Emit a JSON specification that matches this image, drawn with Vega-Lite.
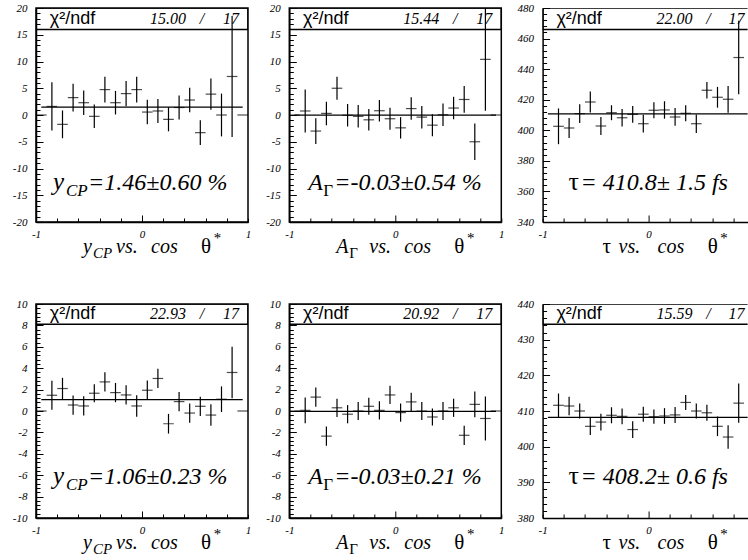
{
"$schema": "https://vega.github.io/schema/vega-lite/v6.json",
"background": "white",
"padding": {"left": 11, "top": 1, "right": 0, "bottom": 0},
"bounds": "flush",
"columns": 3,
"spacing": {"row": 82, "column": 41.3},
"config": {
 "view": {"stroke": "black", "strokeWidth": 1.5},
 "axis": {"ticks": false, "grid": true, "gridColor": "black", "gridWidth": 1, "gridOpacity": 1, "tickCount": 100, "domainColor": "black", "domainWidth": 1.5, "labelFont": "Liberation Serif", "labelFontStyle": "italic", "labelFontSize": 11, "labelColor": "black", "labelFlush": false, "labelOverlap": false, "title": null},
 "axisY": {"labelPadding": 9},
 "axisX": {"labelPadding": 6},
 "mark": {"color": "black"},
 "text": {"font": "Liberation Serif", "fontStyle": "italic", "color": "black"}
},
"datasets": {
 "m1": [{"chi2": "15.00", "ndf": "17", "fit": 1.46, "sym": "y", "sub": "CP", "rest": "=1.46±0.60 %"}],
 "m2": [{"chi2": "15.44", "ndf": "17", "fit": -0.03, "sym": "A", "sub": "Γ", "rest": "=-0.03±0.54 %"}],
 "m3": [{"chi2": "22.00", "ndf": "17", "fit": 410.8, "sym": "τ", "sub": "", "rest": "= 410.8± 1.5 fs"}],
 "m4": [{"chi2": "22.93", "ndf": "17", "fit": 1.06, "sym": "y", "sub": "CP", "rest": "=1.06±0.23 %"}],
 "m5": [{"chi2": "20.92", "ndf": "17", "fit": -0.03, "sym": "A", "sub": "Γ", "rest": "=-0.03±0.21 %"}],
 "m6": [{"chi2": "15.59", "ndf": "17", "fit": 408.2, "sym": "τ", "sub": "", "rest": "= 408.2± 0.6 fs"}],
 "p1": [{"x": -0.95, "y": 0, "e": 0}, {"x": -0.85, "y": 1.6, "e": 4.5}, {"x": -0.75, "y": -1.75, "e": 2.6}, {"x": -0.65, "y": 3.25, "e": 2.6}, {"x": -0.55, "y": 2.3, "e": 2.3}, {"x": -0.45, "y": -0.25, "e": 2.2}, {"x": -0.35, "y": 4.75, "e": 2.4}, {"x": -0.25, "y": 2.3, "e": 2.2}, {"x": -0.15, "y": 4.0, "e": 2.35}, {"x": -0.05, "y": 4.75, "e": 2.4}, {"x": 0.05, "y": 0.55, "e": 2.3}, {"x": 0.15, "y": 0.75, "e": 2.25}, {"x": 0.25, "y": -0.8, "e": 2.25}, {"x": 0.35, "y": 1.4, "e": 2.25}, {"x": 0.45, "y": 2.8, "e": 2.3}, {"x": 0.55, "y": -3.3, "e": 2.3}, {"x": 0.65, "y": 3.9, "e": 2.9}, {"x": 0.75, "y": 0.0, "e": 4.0}, {"x": 0.85, "y": 7.2, "e": 11.3}, {"x": 0.95, "y": 0, "e": 0}],
 "p2": [{"x": -0.95, "y": 0, "e": 0}, {"x": -0.85, "y": 0.75, "e": 4.0}, {"x": -0.75, "y": -3.0, "e": 2.4}, {"x": -0.65, "y": 0.3, "e": 2.2}, {"x": -0.55, "y": 5.0, "e": 2.15}, {"x": -0.45, "y": -0.05, "e": 2.1}, {"x": -0.35, "y": -0.25, "e": 2.1}, {"x": -0.25, "y": -0.9, "e": 2.0}, {"x": -0.15, "y": 0.8, "e": 2.0}, {"x": -0.05, "y": -0.7, "e": 2.05}, {"x": 0.05, "y": -2.4, "e": 2.0}, {"x": 0.15, "y": 1.2, "e": 2.1}, {"x": 0.25, "y": -0.4, "e": 2.1}, {"x": 0.35, "y": -1.9, "e": 2.05}, {"x": 0.45, "y": 0.05, "e": 2.1}, {"x": 0.55, "y": 1.3, "e": 2.1}, {"x": 0.65, "y": 2.9, "e": 2.5}, {"x": 0.75, "y": -5.0, "e": 3.4}, {"x": 0.85, "y": 10.4, "e": 9.6}, {"x": 0.95, "y": 0, "e": 0}],
 "p3": [{"x": -0.85, "y": 402.6, "e": 11.7}, {"x": -0.75, "y": 401.5, "e": 6.6}, {"x": -0.65, "y": 410.9, "e": 6.1}, {"x": -0.55, "y": 418.5, "e": 6.9}, {"x": -0.45, "y": 402.8, "e": 5.9}, {"x": -0.35, "y": 411.5, "e": 4.9}, {"x": -0.25, "y": 408.2, "e": 5.7}, {"x": -0.15, "y": 410.4, "e": 5.5}, {"x": -0.05, "y": 404.3, "e": 5.8}, {"x": 0.05, "y": 413.1, "e": 5.25}, {"x": 0.15, "y": 413.3, "e": 5.7}, {"x": 0.25, "y": 408.7, "e": 5.8}, {"x": 0.35, "y": 411.1, "e": 5.25}, {"x": 0.45, "y": 404.3, "e": 6.0}, {"x": 0.55, "y": 426.2, "e": 5.4}, {"x": 0.65, "y": 421.6, "e": 6.8}, {"x": 0.75, "y": 420.3, "e": 8.75}, {"x": 0.85, "y": 447.6, "e": 24}],
 "p4": [{"x": -0.95, "y": 0, "e": 0}, {"x": -0.85, "y": 1.47, "e": 1.35}, {"x": -0.75, "y": 2.1, "e": 1.0}, {"x": -0.65, "y": 0.56, "e": 0.9}, {"x": -0.55, "y": 0.47, "e": 0.9}, {"x": -0.45, "y": 1.66, "e": 0.85}, {"x": -0.35, "y": 2.72, "e": 0.9}, {"x": -0.25, "y": 1.72, "e": 0.9}, {"x": -0.15, "y": 1.5, "e": 0.9}, {"x": -0.05, "y": 0.47, "e": 1.0}, {"x": 0.05, "y": 1.94, "e": 0.9}, {"x": 0.15, "y": 3.04, "e": 0.9}, {"x": 0.25, "y": -1.19, "e": 0.92}, {"x": 0.35, "y": 0.88, "e": 0.9}, {"x": 0.45, "y": -0.19, "e": 0.9}, {"x": 0.55, "y": 0.44, "e": 0.9}, {"x": 0.65, "y": -0.38, "e": 1.0}, {"x": 0.75, "y": 1.1, "e": 1.2}, {"x": 0.85, "y": 3.6, "e": 2.4}, {"x": 0.95, "y": 0, "e": 0}],
 "p5": [{"x": -0.95, "y": 0, "e": 0}, {"x": -0.85, "y": 0.06, "e": 1.2}, {"x": -0.75, "y": 1.3, "e": 0.9}, {"x": -0.65, "y": -2.35, "e": 0.9}, {"x": -0.55, "y": 0.3, "e": 0.85}, {"x": -0.45, "y": -0.3, "e": 0.85}, {"x": -0.35, "y": 0.0, "e": 0.85}, {"x": -0.25, "y": 0.44, "e": 0.8}, {"x": -0.15, "y": 0.06, "e": 0.85}, {"x": -0.05, "y": 1.5, "e": 0.85}, {"x": 0.05, "y": -0.15, "e": 0.85}, {"x": 0.15, "y": 0.85, "e": 0.85}, {"x": 0.25, "y": 0.0, "e": 0.85}, {"x": 0.35, "y": -0.56, "e": 0.8}, {"x": 0.45, "y": 0.0, "e": 0.85}, {"x": 0.55, "y": 0.3, "e": 0.85}, {"x": 0.65, "y": -2.27, "e": 0.9}, {"x": 0.75, "y": 0.62, "e": 1.2}, {"x": 0.85, "y": -0.7, "e": 2.05}, {"x": 0.95, "y": 0, "e": 0}],
 "p6": [{"x": -0.85, "y": 411.6, "e": 3.3}, {"x": -0.75, "y": 411.4, "e": 2.6}, {"x": -0.65, "y": 410.0, "e": 2.1}, {"x": -0.55, "y": 405.7, "e": 2.4}, {"x": -0.45, "y": 406.9, "e": 2.35}, {"x": -0.35, "y": 408.8, "e": 2.25}, {"x": -0.25, "y": 408.5, "e": 2.2}, {"x": -0.15, "y": 404.8, "e": 2.35}, {"x": -0.05, "y": 409.1, "e": 2.1}, {"x": 0.05, "y": 408.4, "e": 2.0}, {"x": 0.15, "y": 408.6, "e": 2.2}, {"x": 0.25, "y": 408.9, "e": 2.25}, {"x": 0.35, "y": 412.4, "e": 2.1}, {"x": 0.45, "y": 410.0, "e": 2.1}, {"x": 0.55, "y": 409.5, "e": 2.25}, {"x": 0.65, "y": 405.7, "e": 2.75}, {"x": 0.75, "y": 402.7, "e": 3.3}, {"x": 0.85, "y": 412.2, "e": 5.5}]
},
"concat": [
 {"width": 212, "height": 214, "layer": [
  {"data": {"name": "m1"}, "mark": {"type": "rect", "fill": "transparent", "stroke": "black", "strokeWidth": 1.5, "clip": true}, "encoding": {"x": {"datum": -1, "type": "quantitative"}, "x2": {"datum": 1}, "y": {"datum": 16, "type": "quantitative"}, "y2": {"datum": 20}}},
  {"data": {"name": "m1"}, "mark": {"type": "rule", "clip": true, "strokeWidth": 1.2}, "encoding": {"x": {"datum": -0.95, "type": "quantitative"}, "x2": {"datum": 0.95}, "y": {"field": "fit", "type": "quantitative"}}},
  {"data": {"name": "p1"}, "mark": {"type": "errorbar", "color": "black", "rule": {"strokeWidth": 1.2}}, "encoding": {
    "x": {"field": "x", "type": "quantitative", "scale": {"domain": [-1, 1], "nice": false, "zero": false}, "axis": {"values": [-1, -0.8, -0.6, -0.4, -0.2, 0, 0.2, 0.4, 0.6, 0.8, 1], "tickCount": 100, "labelOverlap": false, "labelExpr": "abs(datum.value) == 1 || datum.value == 0 ? '' + datum.value : ''", "gridDash": {"condition": {"test": "datum.value == 0", "value": [0, 207, 7, 3000]}, "value": [0, 210, 4, 3000]}, "title": null}},
    "y": {"field": "y", "type": "quantitative", "scale": {"domain": [-20, 20], "nice": false, "zero": false}, "axis": {"values": [-20,-19,-18,-17,-16,-15,-14,-13,-12,-11,-10,-9,-8,-7,-6,-5,-4,-3,-2,-1,0,1,2,3,4,5,6,7,8,9,10,11,12,13,14,15,16,17,18,19,20], "tickCount": 100, "labelOverlap": false, "labelExpr": "datum.value % 5 == 0 ? '' + datum.value : ''", "gridDash": {"condition": {"test": "datum.value % 5 == 0", "value": [7, 3000]}, "value": [4, 3000]}, "title": null}},
    "yError": {"field": "e"}}},
  {"data": {"name": "p1"}, "mark": {"type": "tick", "orient": "horizontal", "size": 10.6, "thickness": 1.2}, "encoding": {"x": {"field": "x", "type": "quantitative"}, "y": {"field": "y", "type": "quantitative"}}},
  {"data": {"name": "m1"}, "mark": {"type": "text", "font": "Liberation Sans", "fontStyle": "normal", "fontSize": 18, "align": "left", "baseline": "middle"}, "encoding": {"x": {"datum": -0.87, "type": "quantitative"}, "y": {"datum": 18, "type": "quantitative"}, "text": {"value": "χ²/ndf"}}},
  {"data": {"name": "m1"}, "mark": {"type": "text", "font": "Liberation Serif", "fontSize": 16, "align": "right", "baseline": "middle"}, "encoding": {"x": {"datum": 0.415, "type": "quantitative"}, "y": {"datum": 18, "type": "quantitative"}, "text": {"field": "chi2"}}},
  {"data": {"name": "m1"}, "mark": {"type": "text", "font": "Liberation Serif", "fontSize": 16, "align": "center", "baseline": "middle"}, "encoding": {"x": {"datum": 0.566, "type": "quantitative"}, "y": {"datum": 18, "type": "quantitative"}, "text": {"value": "/"}}},
  {"data": {"name": "m1"}, "mark": {"type": "text", "font": "Liberation Serif", "fontSize": 16, "align": "right", "baseline": "middle"}, "encoding": {"x": {"datum": 0.915, "type": "quantitative"}, "y": {"datum": 18, "type": "quantitative"}, "text": {"field": "ndf"}}},
  {"data": {"name": "m1"}, "mark": {"type": "text", "font": "Liberation Serif", "fontSize": 25, "align": "left", "baseline": "alphabetic"}, "encoding": {"x": {"datum": -0.84, "type": "quantitative"}, "y": {"datum": -14, "type": "quantitative"}, "text": {"field": "sym"}}},
  {"data": {"name": "m1"}, "mark": {"type": "text", "font": "Liberation Serif", "fontSize": 17, "align": "left", "baseline": "alphabetic", "dy": 6}, "encoding": {"x": {"datum": -0.717, "type": "quantitative"}, "y": {"datum": -14, "type": "quantitative"}, "text": {"field": "sub"}}},
  {"data": {"name": "m1"}, "mark": {"type": "text", "font": "Liberation Serif", "fontSize": 24, "align": "left", "baseline": "alphabetic"}, "encoding": {"x": {"datum": -0.509, "type": "quantitative"}, "y": {"datum": -14, "type": "quantitative"}, "text": {"field": "rest"}}},
  {"data": {"name": "m1"}, "mark": {"type": "text", "font": "Liberation Serif", "fontSize": 20, "align": "left", "baseline": "alphabetic"}, "encoding": {"x": {"datum": -0.557, "type": "quantitative"}, "y": {"datum": -25.8, "type": "quantitative"}, "text": {"field": "sym"}}},
  {"data": {"name": "m1"}, "mark": {"type": "text", "font": "Liberation Serif", "fontSize": 15, "align": "left", "baseline": "alphabetic", "dy": 5}, "encoding": {"x": {"datum": -0.462, "type": "quantitative"}, "y": {"datum": -25.8, "type": "quantitative"}, "text": {"field": "sub"}}},
  {"data": {"name": "m1"}, "mark": {"type": "text", "font": "Liberation Serif", "fontSize": 20, "align": "left", "baseline": "alphabetic"}, "encoding": {"x": {"datum": -0.245, "type": "quantitative"}, "y": {"datum": -25.8, "type": "quantitative"}, "text": {"value": "vs."}}},
  {"data": {"name": "m1"}, "mark": {"type": "text", "font": "Liberation Serif", "fontSize": 20, "align": "left", "baseline": "alphabetic"}, "encoding": {"x": {"datum": 0.085, "type": "quantitative"}, "y": {"datum": -25.8, "type": "quantitative"}, "text": {"value": "cos"}}},
  {"data": {"name": "m1"}, "mark": {"type": "text", "font": "Liberation Serif", "fontSize": 21, "fontStyle": "normal", "align": "left", "baseline": "alphabetic"}, "encoding": {"x": {"datum": 0.557, "type": "quantitative"}, "y": {"datum": -25.8, "type": "quantitative"}, "text": {"value": "θ"}}},
  {"data": {"name": "m1"}, "mark": {"type": "text", "font": "Liberation Serif", "fontSize": 15, "align": "left", "baseline": "alphabetic", "dy": -10}, "encoding": {"x": {"datum": 0.67, "type": "quantitative"}, "y": {"datum": -25.8, "type": "quantitative"}, "text": {"value": "*"}}}
 ]},
 {"width": 212, "height": 214, "layer": [
  {"data": {"name": "m2"}, "mark": {"type": "rect", "fill": "transparent", "stroke": "black", "strokeWidth": 1.5, "clip": true}, "encoding": {"x": {"datum": -1, "type": "quantitative"}, "x2": {"datum": 1}, "y": {"datum": 16, "type": "quantitative"}, "y2": {"datum": 20}}},
  {"data": {"name": "m2"}, "mark": {"type": "rule", "clip": true, "strokeWidth": 1.2}, "encoding": {"x": {"datum": -0.95, "type": "quantitative"}, "x2": {"datum": 0.95}, "y": {"field": "fit", "type": "quantitative"}}},
  {"data": {"name": "p2"}, "mark": {"type": "errorbar", "color": "black", "rule": {"strokeWidth": 1.2}}, "encoding": {
    "x": {"field": "x", "type": "quantitative", "scale": {"domain": [-1, 1], "nice": false, "zero": false}, "axis": {"values": [-1, -0.8, -0.6, -0.4, -0.2, 0, 0.2, 0.4, 0.6, 0.8, 1], "tickCount": 100, "labelOverlap": false, "labelExpr": "abs(datum.value) == 1 || datum.value == 0 ? '' + datum.value : ''", "gridDash": {"condition": {"test": "datum.value == 0", "value": [0, 207, 7, 3000]}, "value": [0, 210, 4, 3000]}, "title": null}},
    "y": {"field": "y", "type": "quantitative", "scale": {"domain": [-20, 20], "nice": false, "zero": false}, "axis": {"values": [-20,-19,-18,-17,-16,-15,-14,-13,-12,-11,-10,-9,-8,-7,-6,-5,-4,-3,-2,-1,0,1,2,3,4,5,6,7,8,9,10,11,12,13,14,15,16,17,18,19,20], "tickCount": 100, "labelOverlap": false, "labelExpr": "datum.value % 5 == 0 ? '' + datum.value : ''", "gridDash": {"condition": {"test": "datum.value % 5 == 0", "value": [7, 3000]}, "value": [4, 3000]}, "title": null}},
    "yError": {"field": "e"}}},
  {"data": {"name": "p2"}, "mark": {"type": "tick", "orient": "horizontal", "size": 10.6, "thickness": 1.2}, "encoding": {"x": {"field": "x", "type": "quantitative"}, "y": {"field": "y", "type": "quantitative"}}},
  {"data": {"name": "m2"}, "mark": {"type": "text", "font": "Liberation Sans", "fontStyle": "normal", "fontSize": 18, "align": "left", "baseline": "middle"}, "encoding": {"x": {"datum": -0.87, "type": "quantitative"}, "y": {"datum": 18, "type": "quantitative"}, "text": {"value": "χ²/ndf"}}},
  {"data": {"name": "m2"}, "mark": {"type": "text", "font": "Liberation Serif", "fontSize": 16, "align": "right", "baseline": "middle"}, "encoding": {"x": {"datum": 0.415, "type": "quantitative"}, "y": {"datum": 18, "type": "quantitative"}, "text": {"field": "chi2"}}},
  {"data": {"name": "m2"}, "mark": {"type": "text", "font": "Liberation Serif", "fontSize": 16, "align": "center", "baseline": "middle"}, "encoding": {"x": {"datum": 0.566, "type": "quantitative"}, "y": {"datum": 18, "type": "quantitative"}, "text": {"value": "/"}}},
  {"data": {"name": "m2"}, "mark": {"type": "text", "font": "Liberation Serif", "fontSize": 16, "align": "right", "baseline": "middle"}, "encoding": {"x": {"datum": 0.915, "type": "quantitative"}, "y": {"datum": 18, "type": "quantitative"}, "text": {"field": "ndf"}}},
  {"data": {"name": "m2"}, "mark": {"type": "text", "font": "Liberation Serif", "fontSize": 24, "align": "left", "baseline": "alphabetic"}, "encoding": {"x": {"datum": -0.821, "type": "quantitative"}, "y": {"datum": -14, "type": "quantitative"}, "text": {"field": "sym"}}},
  {"data": {"name": "m2"}, "mark": {"type": "text", "font": "Liberation Serif", "fontSize": 17, "fontStyle": "normal", "align": "left", "baseline": "alphabetic", "dy": 6}, "encoding": {"x": {"datum": -0.679, "type": "quantitative"}, "y": {"datum": -14, "type": "quantitative"}, "text": {"field": "sub"}}},
  {"data": {"name": "m2"}, "mark": {"type": "text", "font": "Liberation Serif", "fontSize": 24, "align": "left", "baseline": "alphabetic"}, "encoding": {"x": {"datum": -0.575, "type": "quantitative"}, "y": {"datum": -14, "type": "quantitative"}, "text": {"field": "rest"}}},
  {"data": {"name": "m2"}, "mark": {"type": "text", "font": "Liberation Serif", "fontSize": 20, "align": "left", "baseline": "alphabetic"}, "encoding": {"x": {"datum": -0.557, "type": "quantitative"}, "y": {"datum": -25.8, "type": "quantitative"}, "text": {"field": "sym"}}},
  {"data": {"name": "m2"}, "mark": {"type": "text", "font": "Liberation Serif", "fontSize": 15, "fontStyle": "normal", "align": "left", "baseline": "alphabetic", "dy": 5}, "encoding": {"x": {"datum": -0.434, "type": "quantitative"}, "y": {"datum": -25.8, "type": "quantitative"}, "text": {"field": "sub"}}},
  {"data": {"name": "m2"}, "mark": {"type": "text", "font": "Liberation Serif", "fontSize": 20, "align": "left", "baseline": "alphabetic"}, "encoding": {"x": {"datum": -0.245, "type": "quantitative"}, "y": {"datum": -25.8, "type": "quantitative"}, "text": {"value": "vs."}}},
  {"data": {"name": "m2"}, "mark": {"type": "text", "font": "Liberation Serif", "fontSize": 20, "align": "left", "baseline": "alphabetic"}, "encoding": {"x": {"datum": 0.085, "type": "quantitative"}, "y": {"datum": -25.8, "type": "quantitative"}, "text": {"value": "cos"}}},
  {"data": {"name": "m2"}, "mark": {"type": "text", "font": "Liberation Serif", "fontSize": 21, "fontStyle": "normal", "align": "left", "baseline": "alphabetic"}, "encoding": {"x": {"datum": 0.557, "type": "quantitative"}, "y": {"datum": -25.8, "type": "quantitative"}, "text": {"value": "θ"}}},
  {"data": {"name": "m2"}, "mark": {"type": "text", "font": "Liberation Serif", "fontSize": 15, "align": "left", "baseline": "alphabetic", "dy": -10}, "encoding": {"x": {"datum": 0.67, "type": "quantitative"}, "y": {"datum": -25.8, "type": "quantitative"}, "text": {"value": "*"}}}
 ]},
 {"width": 205, "height": 214, "view": {"stroke": null}, "layer": [
  {"data": {"name": "m3"}, "mark": {"type": "rect", "fill": "transparent", "stroke": "black", "strokeWidth": 1.5, "clip": true}, "encoding": {"x": {"datum": -1, "type": "quantitative"}, "x2": {"datum": 1.2}, "y": {"datum": 466, "type": "quantitative"}, "y2": {"datum": 480}}},
  {"data": {"name": "m3"}, "mark": {"type": "rule", "clip": true, "strokeWidth": 1.2}, "encoding": {"x": {"datum": -0.95, "type": "quantitative"}, "x2": {"datum": 0.95}, "y": {"field": "fit", "type": "quantitative"}}},
  {"data": {"name": "p3"}, "mark": {"type": "errorbar", "color": "black", "rule": {"strokeWidth": 1.2}}, "encoding": {
    "x": {"field": "x", "type": "quantitative", "scale": {"domain": [-1, 0.934], "nice": false, "zero": false}, "axis": {"values": [-1, -0.8, -0.6, -0.4, -0.2, 0, 0.2, 0.4, 0.6, 0.8], "tickCount": 100, "labelOverlap": false, "labelExpr": "abs(datum.value) == 1 || datum.value == 0 ? '' + datum.value : ''", "gridDash": {"condition": {"test": "datum.value == 0", "value": [0, 207, 7, 3000]}, "value": [0, 210, 4, 3000]}, "title": null}},
    "y": {"field": "y", "type": "quantitative", "scale": {"domain": [340, 480], "nice": false, "zero": false}, "axis": {"values": [340,344,348,352,356,360,364,368,372,376,380,384,388,392,396,400,404,408,412,416,420,424,428,432,436,440,444,448,452,456,460,464,468,472,476,480], "tickCount": 100, "labelOverlap": false, "labelExpr": "datum.value % 20 == 0 ? '' + datum.value : ''", "gridDash": {"condition": {"test": "datum.value % 20 == 0", "value": [7, 3000]}, "value": [4, 3000]}, "title": null}},
    "yError": {"field": "e"}}},
  {"data": {"name": "p3"}, "mark": {"type": "tick", "orient": "horizontal", "size": 10.6, "thickness": 1.2}, "encoding": {"x": {"field": "x", "type": "quantitative"}, "y": {"field": "y", "type": "quantitative"}}},
  {"data": {"name": "m3"}, "mark": {"type": "text", "font": "Liberation Sans", "fontStyle": "normal", "fontSize": 18, "align": "left", "baseline": "middle"}, "encoding": {"x": {"datum": -0.87, "type": "quantitative"}, "y": {"datum": 473, "type": "quantitative"}, "text": {"value": "χ²/ndf"}}},
  {"data": {"name": "m3"}, "mark": {"type": "text", "font": "Liberation Serif", "fontSize": 16, "align": "right", "baseline": "middle"}, "encoding": {"x": {"datum": 0.415, "type": "quantitative"}, "y": {"datum": 473, "type": "quantitative"}, "text": {"field": "chi2"}}},
  {"data": {"name": "m3"}, "mark": {"type": "text", "font": "Liberation Serif", "fontSize": 16, "align": "center", "baseline": "middle"}, "encoding": {"x": {"datum": 0.566, "type": "quantitative"}, "y": {"datum": 473, "type": "quantitative"}, "text": {"value": "/"}}},
  {"data": {"name": "m3"}, "mark": {"type": "text", "font": "Liberation Serif", "fontSize": 16, "align": "right", "baseline": "middle"}, "encoding": {"x": {"datum": 0.905, "type": "quantitative"}, "y": {"datum": 473, "type": "quantitative"}, "text": {"field": "ndf"}}},
  {"data": {"name": "m3"}, "mark": {"type": "text", "font": "Liberation Serif", "fontSize": 26, "fontStyle": "normal", "align": "left", "baseline": "alphabetic"}, "encoding": {"x": {"datum": -0.755, "type": "quantitative"}, "y": {"datum": 361, "type": "quantitative"}, "text": {"field": "sym"}}},
  {"data": {"name": "m3"}, "mark": {"type": "text", "font": "Liberation Serif", "fontSize": 24, "align": "left", "baseline": "alphabetic"}, "encoding": {"x": {"datum": -0.642, "type": "quantitative"}, "y": {"datum": 361, "type": "quantitative"}, "text": {"field": "rest"}}},
  {"data": {"name": "m3"}, "mark": {"type": "text", "font": "Liberation Serif", "fontSize": 21, "fontStyle": "normal", "align": "left", "baseline": "alphabetic"}, "encoding": {"x": {"datum": -0.434, "type": "quantitative"}, "y": {"datum": 319.7, "type": "quantitative"}, "text": {"field": "sym"}}},
  {"data": {"name": "m3"}, "mark": {"type": "text", "font": "Liberation Serif", "fontSize": 20, "align": "left", "baseline": "alphabetic"}, "encoding": {"x": {"datum": -0.283, "type": "quantitative"}, "y": {"datum": 319.7, "type": "quantitative"}, "text": {"value": "vs."}}},
  {"data": {"name": "m3"}, "mark": {"type": "text", "font": "Liberation Serif", "fontSize": 20, "align": "left", "baseline": "alphabetic"}, "encoding": {"x": {"datum": 0.085, "type": "quantitative"}, "y": {"datum": 319.7, "type": "quantitative"}, "text": {"value": "cos"}}},
  {"data": {"name": "m3"}, "mark": {"type": "text", "font": "Liberation Serif", "fontSize": 21, "fontStyle": "normal", "align": "left", "baseline": "alphabetic"}, "encoding": {"x": {"datum": 0.557, "type": "quantitative"}, "y": {"datum": 319.7, "type": "quantitative"}, "text": {"value": "θ"}}},
  {"data": {"name": "m3"}, "mark": {"type": "text", "font": "Liberation Serif", "fontSize": 15, "align": "left", "baseline": "alphabetic", "dy": -10}, "encoding": {"x": {"datum": 0.67, "type": "quantitative"}, "y": {"datum": 319.7, "type": "quantitative"}, "text": {"value": "*"}}}
 ]},
 {"width": 212, "height": 214, "layer": [
  {"data": {"name": "m4"}, "mark": {"type": "rect", "fill": "transparent", "stroke": "black", "strokeWidth": 1.5, "clip": true}, "encoding": {"x": {"datum": -1, "type": "quantitative"}, "x2": {"datum": 1}, "y": {"datum": 8.1, "type": "quantitative"}, "y2": {"datum": 10}}},
  {"data": {"name": "m4"}, "mark": {"type": "rule", "clip": true, "strokeWidth": 1.2}, "encoding": {"x": {"datum": -0.95, "type": "quantitative"}, "x2": {"datum": 0.95}, "y": {"field": "fit", "type": "quantitative"}}},
  {"data": {"name": "p4"}, "mark": {"type": "errorbar", "color": "black", "rule": {"strokeWidth": 1.2}}, "encoding": {
    "x": {"field": "x", "type": "quantitative", "scale": {"domain": [-1, 1], "nice": false, "zero": false}, "axis": {"values": [-1, -0.8, -0.6, -0.4, -0.2, 0, 0.2, 0.4, 0.6, 0.8, 1], "tickCount": 100, "labelOverlap": false, "labelExpr": "abs(datum.value) == 1 || datum.value == 0 ? '' + datum.value : ''", "gridDash": {"condition": {"test": "datum.value == 0", "value": [0, 207, 7, 3000]}, "value": [0, 210, 4, 3000]}, "title": null}},
    "y": {"field": "y", "type": "quantitative", "scale": {"domain": [-10, 10], "nice": false, "zero": false}, "axis": {"values": [-10,-9.6,-9.2,-8.8,-8.4,-8,-7.6,-7.2,-6.8,-6.4,-6,-5.6,-5.2,-4.8,-4.4,-4,-3.6,-3.2,-2.8,-2.4,-2,-1.6,-1.2,-0.8,-0.4,0,0.4,0.8,1.2,1.6,2,2.4,2.8,3.2,3.6,4,4.4,4.8,5.2,5.6,6,6.4,6.8,7.2,7.6,8,8.4,8.8,9.2,9.6,10], "tickCount": 100, "labelOverlap": false, "labelExpr": "datum.value % 2 == 0 ? '' + datum.value : ''", "gridDash": {"condition": {"test": "datum.value % 2 == 0", "value": [7, 3000]}, "value": [4, 3000]}, "title": null}},
    "yError": {"field": "e"}}},
  {"data": {"name": "p4"}, "mark": {"type": "tick", "orient": "horizontal", "size": 10.6, "thickness": 1.2}, "encoding": {"x": {"field": "x", "type": "quantitative"}, "y": {"field": "y", "type": "quantitative"}}},
  {"data": {"name": "m4"}, "mark": {"type": "text", "font": "Liberation Sans", "fontStyle": "normal", "fontSize": 18, "align": "left", "baseline": "middle"}, "encoding": {"x": {"datum": -0.87, "type": "quantitative"}, "y": {"datum": 9.05, "type": "quantitative"}, "text": {"value": "χ²/ndf"}}},
  {"data": {"name": "m4"}, "mark": {"type": "text", "font": "Liberation Serif", "fontSize": 16, "align": "right", "baseline": "middle"}, "encoding": {"x": {"datum": 0.415, "type": "quantitative"}, "y": {"datum": 9.05, "type": "quantitative"}, "text": {"field": "chi2"}}},
  {"data": {"name": "m4"}, "mark": {"type": "text", "font": "Liberation Serif", "fontSize": 16, "align": "center", "baseline": "middle"}, "encoding": {"x": {"datum": 0.566, "type": "quantitative"}, "y": {"datum": 9.05, "type": "quantitative"}, "text": {"value": "/"}}},
  {"data": {"name": "m4"}, "mark": {"type": "text", "font": "Liberation Serif", "fontSize": 16, "align": "right", "baseline": "middle"}, "encoding": {"x": {"datum": 0.915, "type": "quantitative"}, "y": {"datum": 9.05, "type": "quantitative"}, "text": {"field": "ndf"}}},
  {"data": {"name": "m4"}, "mark": {"type": "text", "font": "Liberation Serif", "fontSize": 25, "align": "left", "baseline": "alphabetic"}, "encoding": {"x": {"datum": -0.84, "type": "quantitative"}, "y": {"datum": -6.8, "type": "quantitative"}, "text": {"field": "sym"}}},
  {"data": {"name": "m4"}, "mark": {"type": "text", "font": "Liberation Serif", "fontSize": 17, "align": "left", "baseline": "alphabetic", "dy": 6}, "encoding": {"x": {"datum": -0.717, "type": "quantitative"}, "y": {"datum": -6.8, "type": "quantitative"}, "text": {"field": "sub"}}},
  {"data": {"name": "m4"}, "mark": {"type": "text", "font": "Liberation Serif", "fontSize": 24, "align": "left", "baseline": "alphabetic"}, "encoding": {"x": {"datum": -0.509, "type": "quantitative"}, "y": {"datum": -6.8, "type": "quantitative"}, "text": {"field": "rest"}}},
  {"data": {"name": "m4"}, "mark": {"type": "text", "font": "Liberation Serif", "fontSize": 20, "align": "left", "baseline": "alphabetic"}, "encoding": {"x": {"datum": -0.557, "type": "quantitative"}, "y": {"datum": -12.9, "type": "quantitative"}, "text": {"field": "sym"}}},
  {"data": {"name": "m4"}, "mark": {"type": "text", "font": "Liberation Serif", "fontSize": 15, "align": "left", "baseline": "alphabetic", "dy": 5}, "encoding": {"x": {"datum": -0.462, "type": "quantitative"}, "y": {"datum": -12.9, "type": "quantitative"}, "text": {"field": "sub"}}},
  {"data": {"name": "m4"}, "mark": {"type": "text", "font": "Liberation Serif", "fontSize": 20, "align": "left", "baseline": "alphabetic"}, "encoding": {"x": {"datum": -0.245, "type": "quantitative"}, "y": {"datum": -12.9, "type": "quantitative"}, "text": {"value": "vs."}}},
  {"data": {"name": "m4"}, "mark": {"type": "text", "font": "Liberation Serif", "fontSize": 20, "align": "left", "baseline": "alphabetic"}, "encoding": {"x": {"datum": 0.085, "type": "quantitative"}, "y": {"datum": -12.9, "type": "quantitative"}, "text": {"value": "cos"}}},
  {"data": {"name": "m4"}, "mark": {"type": "text", "font": "Liberation Serif", "fontSize": 21, "fontStyle": "normal", "align": "left", "baseline": "alphabetic"}, "encoding": {"x": {"datum": 0.557, "type": "quantitative"}, "y": {"datum": -12.9, "type": "quantitative"}, "text": {"value": "θ"}}},
  {"data": {"name": "m4"}, "mark": {"type": "text", "font": "Liberation Serif", "fontSize": 15, "align": "left", "baseline": "alphabetic", "dy": -10}, "encoding": {"x": {"datum": 0.67, "type": "quantitative"}, "y": {"datum": -12.9, "type": "quantitative"}, "text": {"value": "*"}}}
 ]},
 {"width": 212, "height": 214, "layer": [
  {"data": {"name": "m5"}, "mark": {"type": "rect", "fill": "transparent", "stroke": "black", "strokeWidth": 1.5, "clip": true}, "encoding": {"x": {"datum": -1, "type": "quantitative"}, "x2": {"datum": 1}, "y": {"datum": 8.1, "type": "quantitative"}, "y2": {"datum": 10}}},
  {"data": {"name": "m5"}, "mark": {"type": "rule", "clip": true, "strokeWidth": 1.2}, "encoding": {"x": {"datum": -0.95, "type": "quantitative"}, "x2": {"datum": 0.95}, "y": {"field": "fit", "type": "quantitative"}}},
  {"data": {"name": "p5"}, "mark": {"type": "errorbar", "color": "black", "rule": {"strokeWidth": 1.2}}, "encoding": {
    "x": {"field": "x", "type": "quantitative", "scale": {"domain": [-1, 1], "nice": false, "zero": false}, "axis": {"values": [-1, -0.8, -0.6, -0.4, -0.2, 0, 0.2, 0.4, 0.6, 0.8, 1], "tickCount": 100, "labelOverlap": false, "labelExpr": "abs(datum.value) == 1 || datum.value == 0 ? '' + datum.value : ''", "gridDash": {"condition": {"test": "datum.value == 0", "value": [0, 207, 7, 3000]}, "value": [0, 210, 4, 3000]}, "title": null}},
    "y": {"field": "y", "type": "quantitative", "scale": {"domain": [-10, 10], "nice": false, "zero": false}, "axis": {"values": [-10,-9.6,-9.2,-8.8,-8.4,-8,-7.6,-7.2,-6.8,-6.4,-6,-5.6,-5.2,-4.8,-4.4,-4,-3.6,-3.2,-2.8,-2.4,-2,-1.6,-1.2,-0.8,-0.4,0,0.4,0.8,1.2,1.6,2,2.4,2.8,3.2,3.6,4,4.4,4.8,5.2,5.6,6,6.4,6.8,7.2,7.6,8,8.4,8.8,9.2,9.6,10], "tickCount": 100, "labelOverlap": false, "labelExpr": "datum.value % 2 == 0 ? '' + datum.value : ''", "gridDash": {"condition": {"test": "datum.value % 2 == 0", "value": [7, 3000]}, "value": [4, 3000]}, "title": null}},
    "yError": {"field": "e"}}},
  {"data": {"name": "p5"}, "mark": {"type": "tick", "orient": "horizontal", "size": 10.6, "thickness": 1.2}, "encoding": {"x": {"field": "x", "type": "quantitative"}, "y": {"field": "y", "type": "quantitative"}}},
  {"data": {"name": "m5"}, "mark": {"type": "text", "font": "Liberation Sans", "fontStyle": "normal", "fontSize": 18, "align": "left", "baseline": "middle"}, "encoding": {"x": {"datum": -0.87, "type": "quantitative"}, "y": {"datum": 9.05, "type": "quantitative"}, "text": {"value": "χ²/ndf"}}},
  {"data": {"name": "m5"}, "mark": {"type": "text", "font": "Liberation Serif", "fontSize": 16, "align": "right", "baseline": "middle"}, "encoding": {"x": {"datum": 0.415, "type": "quantitative"}, "y": {"datum": 9.05, "type": "quantitative"}, "text": {"field": "chi2"}}},
  {"data": {"name": "m5"}, "mark": {"type": "text", "font": "Liberation Serif", "fontSize": 16, "align": "center", "baseline": "middle"}, "encoding": {"x": {"datum": 0.566, "type": "quantitative"}, "y": {"datum": 9.05, "type": "quantitative"}, "text": {"value": "/"}}},
  {"data": {"name": "m5"}, "mark": {"type": "text", "font": "Liberation Serif", "fontSize": 16, "align": "right", "baseline": "middle"}, "encoding": {"x": {"datum": 0.915, "type": "quantitative"}, "y": {"datum": 9.05, "type": "quantitative"}, "text": {"field": "ndf"}}},
  {"data": {"name": "m5"}, "mark": {"type": "text", "font": "Liberation Serif", "fontSize": 24, "align": "left", "baseline": "alphabetic"}, "encoding": {"x": {"datum": -0.821, "type": "quantitative"}, "y": {"datum": -6.8, "type": "quantitative"}, "text": {"field": "sym"}}},
  {"data": {"name": "m5"}, "mark": {"type": "text", "font": "Liberation Serif", "fontSize": 17, "fontStyle": "normal", "align": "left", "baseline": "alphabetic", "dy": 6}, "encoding": {"x": {"datum": -0.679, "type": "quantitative"}, "y": {"datum": -6.8, "type": "quantitative"}, "text": {"field": "sub"}}},
  {"data": {"name": "m5"}, "mark": {"type": "text", "font": "Liberation Serif", "fontSize": 24, "align": "left", "baseline": "alphabetic"}, "encoding": {"x": {"datum": -0.575, "type": "quantitative"}, "y": {"datum": -6.8, "type": "quantitative"}, "text": {"field": "rest"}}},
  {"data": {"name": "m5"}, "mark": {"type": "text", "font": "Liberation Serif", "fontSize": 20, "align": "left", "baseline": "alphabetic"}, "encoding": {"x": {"datum": -0.557, "type": "quantitative"}, "y": {"datum": -12.9, "type": "quantitative"}, "text": {"field": "sym"}}},
  {"data": {"name": "m5"}, "mark": {"type": "text", "font": "Liberation Serif", "fontSize": 15, "fontStyle": "normal", "align": "left", "baseline": "alphabetic", "dy": 5}, "encoding": {"x": {"datum": -0.434, "type": "quantitative"}, "y": {"datum": -12.9, "type": "quantitative"}, "text": {"field": "sub"}}},
  {"data": {"name": "m5"}, "mark": {"type": "text", "font": "Liberation Serif", "fontSize": 20, "align": "left", "baseline": "alphabetic"}, "encoding": {"x": {"datum": -0.245, "type": "quantitative"}, "y": {"datum": -12.9, "type": "quantitative"}, "text": {"value": "vs."}}},
  {"data": {"name": "m5"}, "mark": {"type": "text", "font": "Liberation Serif", "fontSize": 20, "align": "left", "baseline": "alphabetic"}, "encoding": {"x": {"datum": 0.085, "type": "quantitative"}, "y": {"datum": -12.9, "type": "quantitative"}, "text": {"value": "cos"}}},
  {"data": {"name": "m5"}, "mark": {"type": "text", "font": "Liberation Serif", "fontSize": 21, "fontStyle": "normal", "align": "left", "baseline": "alphabetic"}, "encoding": {"x": {"datum": 0.557, "type": "quantitative"}, "y": {"datum": -12.9, "type": "quantitative"}, "text": {"value": "θ"}}},
  {"data": {"name": "m5"}, "mark": {"type": "text", "font": "Liberation Serif", "fontSize": 15, "align": "left", "baseline": "alphabetic", "dy": -10}, "encoding": {"x": {"datum": 0.67, "type": "quantitative"}, "y": {"datum": -12.9, "type": "quantitative"}, "text": {"value": "*"}}}
 ]},
 {"width": 205, "height": 214, "view": {"stroke": null}, "layer": [
  {"data": {"name": "m6"}, "mark": {"type": "rect", "fill": "transparent", "stroke": "black", "strokeWidth": 1.5, "clip": true}, "encoding": {"x": {"datum": -1, "type": "quantitative"}, "x2": {"datum": 1.2}, "y": {"datum": 434.3, "type": "quantitative"}, "y2": {"datum": 440}}},
  {"data": {"name": "m6"}, "mark": {"type": "rule", "clip": true, "strokeWidth": 1.2}, "encoding": {"x": {"datum": -0.95, "type": "quantitative"}, "x2": {"datum": 0.95}, "y": {"field": "fit", "type": "quantitative"}}},
  {"data": {"name": "p6"}, "mark": {"type": "errorbar", "color": "black", "rule": {"strokeWidth": 1.2}}, "encoding": {
    "x": {"field": "x", "type": "quantitative", "scale": {"domain": [-1, 0.934], "nice": false, "zero": false}, "axis": {"values": [-1, -0.8, -0.6, -0.4, -0.2, 0, 0.2, 0.4, 0.6, 0.8], "tickCount": 100, "labelOverlap": false, "labelExpr": "abs(datum.value) == 1 || datum.value == 0 ? '' + datum.value : ''", "gridDash": {"condition": {"test": "datum.value == 0", "value": [0, 207, 7, 3000]}, "value": [0, 210, 4, 3000]}, "title": null}},
    "y": {"field": "y", "type": "quantitative", "scale": {"domain": [380, 440], "nice": false, "zero": false}, "axis": {"values": [380,382,384,386,388,390,392,394,396,398,400,402,404,406,408,410,412,414,416,418,420,422,424,426,428,430,432,434,436,438,440], "tickCount": 100, "labelOverlap": false, "labelExpr": "datum.value % 10 == 0 ? '' + datum.value : ''", "gridDash": {"condition": {"test": "datum.value % 10 == 0", "value": [7, 3000]}, "value": [4, 3000]}, "title": null}},
    "yError": {"field": "e"}}},
  {"data": {"name": "p6"}, "mark": {"type": "tick", "orient": "horizontal", "size": 10.6, "thickness": 1.2}, "encoding": {"x": {"field": "x", "type": "quantitative"}, "y": {"field": "y", "type": "quantitative"}}},
  {"data": {"name": "m6"}, "mark": {"type": "text", "font": "Liberation Sans", "fontStyle": "normal", "fontSize": 18, "align": "left", "baseline": "middle"}, "encoding": {"x": {"datum": -0.87, "type": "quantitative"}, "y": {"datum": 437.15, "type": "quantitative"}, "text": {"value": "χ²/ndf"}}},
  {"data": {"name": "m6"}, "mark": {"type": "text", "font": "Liberation Serif", "fontSize": 16, "align": "right", "baseline": "middle"}, "encoding": {"x": {"datum": 0.415, "type": "quantitative"}, "y": {"datum": 437.15, "type": "quantitative"}, "text": {"field": "chi2"}}},
  {"data": {"name": "m6"}, "mark": {"type": "text", "font": "Liberation Serif", "fontSize": 16, "align": "center", "baseline": "middle"}, "encoding": {"x": {"datum": 0.566, "type": "quantitative"}, "y": {"datum": 437.15, "type": "quantitative"}, "text": {"value": "/"}}},
  {"data": {"name": "m6"}, "mark": {"type": "text", "font": "Liberation Serif", "fontSize": 16, "align": "right", "baseline": "middle"}, "encoding": {"x": {"datum": 0.905, "type": "quantitative"}, "y": {"datum": 437.15, "type": "quantitative"}, "text": {"field": "ndf"}}},
  {"data": {"name": "m6"}, "mark": {"type": "text", "font": "Liberation Serif", "fontSize": 26, "fontStyle": "normal", "align": "left", "baseline": "alphabetic"}, "encoding": {"x": {"datum": -0.755, "type": "quantitative"}, "y": {"datum": 389.6, "type": "quantitative"}, "text": {"field": "sym"}}},
  {"data": {"name": "m6"}, "mark": {"type": "text", "font": "Liberation Serif", "fontSize": 24, "align": "left", "baseline": "alphabetic"}, "encoding": {"x": {"datum": -0.642, "type": "quantitative"}, "y": {"datum": 389.6, "type": "quantitative"}, "text": {"field": "rest"}}},
  {"data": {"name": "m6"}, "mark": {"type": "text", "font": "Liberation Serif", "fontSize": 21, "fontStyle": "normal", "align": "left", "baseline": "alphabetic"}, "encoding": {"x": {"datum": -0.434, "type": "quantitative"}, "y": {"datum": 371.3, "type": "quantitative"}, "text": {"field": "sym"}}},
  {"data": {"name": "m6"}, "mark": {"type": "text", "font": "Liberation Serif", "fontSize": 20, "align": "left", "baseline": "alphabetic"}, "encoding": {"x": {"datum": -0.283, "type": "quantitative"}, "y": {"datum": 371.3, "type": "quantitative"}, "text": {"value": "vs."}}},
  {"data": {"name": "m6"}, "mark": {"type": "text", "font": "Liberation Serif", "fontSize": 20, "align": "left", "baseline": "alphabetic"}, "encoding": {"x": {"datum": 0.085, "type": "quantitative"}, "y": {"datum": 371.3, "type": "quantitative"}, "text": {"value": "cos"}}},
  {"data": {"name": "m6"}, "mark": {"type": "text", "font": "Liberation Serif", "fontSize": 21, "fontStyle": "normal", "align": "left", "baseline": "alphabetic"}, "encoding": {"x": {"datum": 0.557, "type": "quantitative"}, "y": {"datum": 371.3, "type": "quantitative"}, "text": {"value": "θ"}}},
  {"data": {"name": "m6"}, "mark": {"type": "text", "font": "Liberation Serif", "fontSize": 15, "align": "left", "baseline": "alphabetic", "dy": -10}, "encoding": {"x": {"datum": 0.67, "type": "quantitative"}, "y": {"datum": 371.3, "type": "quantitative"}, "text": {"value": "*"}}}
 ]}
]
}
